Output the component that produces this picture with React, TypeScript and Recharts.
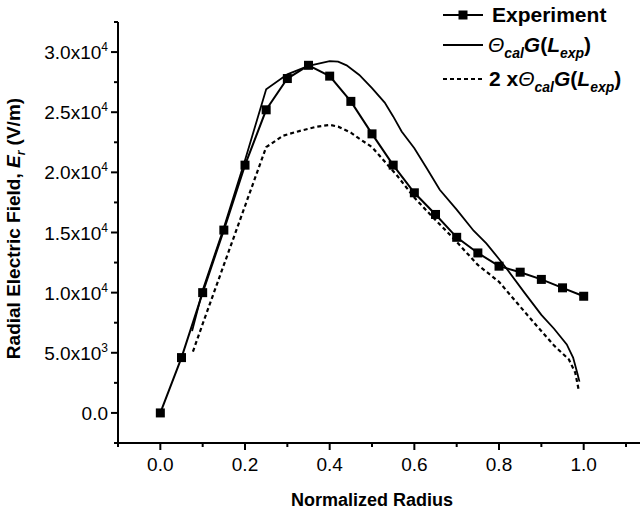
import React from "react";
import { LineChart, Line, XAxis, YAxis } from "recharts";

// measured experiment points
const expX = [0, 0.05, 0.1, 0.15, 0.2, 0.25, 0.3, 0.35, 0.4, 0.45, 0.5, 0.55, 0.6, 0.65, 0.7, 0.75, 0.8, 0.85, 0.9, 0.95, 1.0];
const expY = [0, 4600, 10000, 15200, 20600, 25200, 27800, 28900, 28000, 25900, 23200, 20600, 18300, 16500, 14600, 13300, 12200, 11700, 11100, 10400, 9700];

// Θcal G(Lexp)
const calX = [0.075, 0.1, 0.15, 0.2, 0.25, 0.3, 0.35, 0.4, 0.42, 0.44, 0.47, 0.5, 0.53, 0.55, 0.57, 0.6, 0.63, 0.66, 0.7, 0.74, 0.77, 0.8, 0.82, 0.86, 0.9, 0.93, 0.96, 0.975, 0.985, 0.99];
const calY = [6800, 10200, 15400, 21000, 26900, 28150, 28850, 29250, 29200, 28900, 28100, 27000, 25800, 24650, 23400, 22000, 20300, 18550, 16900, 15150, 14100, 12800, 11900, 10000, 8150, 7000, 5700, 4600, 3300, 2600];

// 2 x Θcal G(Lexp)
const dblX = [0.077, 0.1, 0.15, 0.2, 0.25, 0.29, 0.33, 0.37, 0.4, 0.42, 0.45, 0.47, 0.5, 0.52, 0.56, 0.6, 0.64, 0.69, 0.75, 0.8, 0.84, 0.89, 0.93, 0.965, 0.98, 0.988];
const dblY = [5100, 7400, 12300, 17200, 22100, 23050, 23450, 23800, 23950, 23800, 23300, 22800, 22100, 21300, 19700, 17900, 16400, 14600, 12300, 10900, 9250, 7200, 5600, 4450, 3350, 1950];

const xTicks = [-0.1, 0, 0.1, 0.2, 0.3, 0.4, 0.5, 0.6, 0.7, 0.8, 0.9, 1.0, 1.1];
const xLabels = ["0.0", "0.2", "0.4", "0.6", "0.8", "1.0"];
const yTicks = [-2500, 0, 2500, 5000, 7500, 10000, 12500, 15000, 17500, 20000, 22500, 25000, 27500, 30000, 32500];

const toPoints = (xs: number[], ys: number[]) => xs.map((x, i) => ({ x, y: ys[i] }));
const expData = toPoints(expX, expY);
const calData = toPoints(calX, calY);
const dblData = toPoints(dblX, dblY);

const FONT = "Arial, 'Liberation Sans', sans-serif";

const xLabelFor = (v: number) => xLabels.find((l) => Math.abs(parseFloat(l) - v) < 1e-6);

const XTick = ({ x, y, payload }: any) => {
  const label = xLabelFor(payload.value);
  const len = label ? 7 : 4;
  return (
    <g>
      <line x1={x} x2={x} y1={y} y2={y + len} stroke="#000" strokeWidth={2} />
      {label && (
        <text x={x} y={y + 28} textAnchor="middle" fontSize={19} fill="#000" fontFamily={FONT}>
          {label}
        </text>
      )}
    </g>
  );
};

const YTick = ({ x, y, payload }: any) => {
  const v = payload.value;
  const major = v >= 0 && v <= 30000 && v % 5000 === 0;
  const len = major ? 7 : 4;
  let content: any = null;
  if (major) {
    if (v === 0) {
      content = "0.0";
    } else {
      const exp = Math.floor(Math.log10(v));
      const mant = (v / Math.pow(10, exp)).toFixed(1);
      content = (
        <>
          <tspan>{mant}x10</tspan>
          <tspan fontSize={12} dy={-8}>{exp}</tspan>
        </>
      );
    }
  }
  return (
    <g>
      <line x1={x} x2={x - len} y1={y} y2={y} stroke="#000" strokeWidth={2} />
      {major && (
        <text x={x - 10} y={y + 7} textAnchor="end" fontSize={19} fill="#000" fontFamily={FONT}>
          {content}
        </text>
      )}
    </g>
  );
};

const ExpDot = ({ cx, cy }: any) => <rect x={cx - 4.5} y={cy - 4.5} width={9} height={9} fill="#000" />;

const YTitle = ({ viewBox }: any) => {
  const cx = viewBox.x + 20;
  const cy = viewBox.y + viewBox.height / 2 - 4;
  return (
    <text transform={`translate(${cx},${cy}) rotate(-90)`} textAnchor="middle" fontSize={19} fontWeight="bold" fill="#000" fontFamily={FONT}>
      <tspan>Radial Electric Field, </tspan>
      <tspan fontStyle="italic">E</tspan>
      <tspan fontStyle="italic" fontSize={12} dy={5}>r</tspan>
      <tspan dy={-5}> (V/m)</tspan>
    </text>
  );
};

const XTitle = ({ viewBox }: any) => (
  <text x={viewBox.x + viewBox.width / 2 - 7} y={viewBox.y + 63} textAnchor="middle" fontSize={18} fontWeight="bold" fill="#000" fontFamily={FONT}>
    Normalized Radius
  </text>
);

const ThetaText = ({ x, y, prefix }: { x: number; y: number; prefix?: string }) => (
  <text x={x} y={y} fontSize={21} fontWeight="bold" fill="#000" fontFamily={FONT}>
    {prefix && <tspan>{prefix}</tspan>}
    <tspan fontStyle="italic" fontWeight="normal">Θ</tspan>
    <tspan fontStyle="italic" fontSize={14} dy={6}>cal</tspan>
    <tspan fontStyle="italic" dy={-6}>G</tspan>
    <tspan>(</tspan>
    <tspan fontStyle="italic">L</tspan>
    <tspan fontStyle="italic" fontSize={14} dy={6}>exp</tspan>
    <tspan dy={-6}>)</tspan>
  </text>
);

const ChartLegend = () => (
  <svg width={210} height={100} style={{ position: "absolute", left: 430, top: 0 }}>
    <line x1={13} x2={53} y1={15} y2={15} stroke="#000" strokeWidth={2} />
    <rect x={28.5} y={10.5} width={9} height={9} fill="#000" />
    <text x={62} y={22} fontSize={21} fontWeight="bold" fill="#000" fontFamily={FONT}>Experiment</text>
    <line x1={13} x2={53} y1={45} y2={45} stroke="#000" strokeWidth={2} />
    <ThetaText x={58} y={52} />
    <line x1={13} x2={53} y1={79} y2={79} stroke="#000" strokeWidth={2} strokeDasharray="4 3" />
    <ThetaText x={59} y={86} prefix="2 x" />
  </svg>
);

export default function App() {
  return (
    <div style={{ position: "absolute", left: 0, top: 0, width: 640, height: 512, background: "#fff" }}>
      <LineChart width={640} height={512} margin={{ top: 22, right: 0, left: 0, bottom: 0 }} style={{ fontFamily: FONT }}>
        <XAxis
          type="number"
          dataKey="x"
          domain={[-0.1, 1.133]}
          ticks={xTicks}
          interval={0}
          height={69}
          tickSize={0}
          tickMargin={0}
          tickLine={false}
          tick={<XTick />}
          axisLine={{ stroke: "#000", strokeWidth: 2 }}
          allowDataOverflow
          label={{ content: <XTitle /> } as any}
        />
        <YAxis
          type="number"
          domain={[-2500, 32500]}
          ticks={yTicks}
          interval={0}
          width={118}
          tickSize={0}
          tickMargin={0}
          tickLine={false}
          tick={<YTick />}
          axisLine={{ stroke: "#000", strokeWidth: 2 }}
          allowDataOverflow
          label={{ content: <YTitle /> } as any}
        />
        <Line data={dblData} dataKey="y" type="linear" stroke="#000" strokeWidth={2.2} strokeDasharray="4 3" dot={false} isAnimationActive={false} />
        <Line data={calData} dataKey="y" type="linear" stroke="#000" strokeWidth={1.8} dot={false} isAnimationActive={false} />
        <Line data={expData} dataKey="y" type="linear" stroke="#000" strokeWidth={2} dot={<ExpDot />} isAnimationActive={false} />
      </LineChart>
      <ChartLegend />
    </div>
  );
}
